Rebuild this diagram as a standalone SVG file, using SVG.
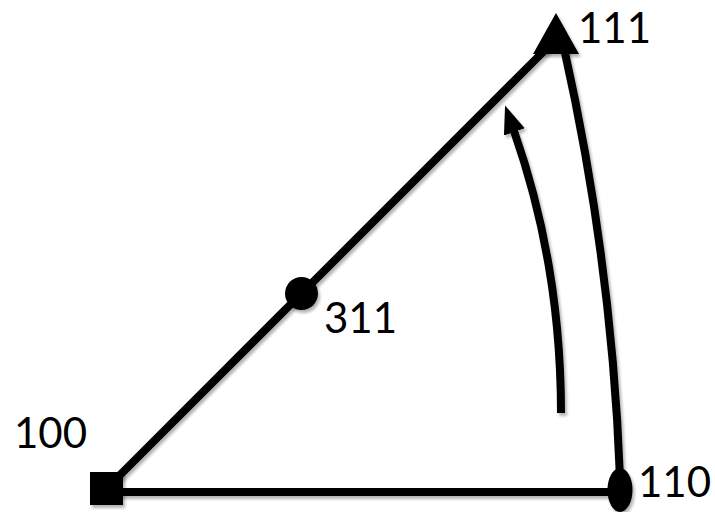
<svg xmlns="http://www.w3.org/2000/svg" width="715" height="512" viewBox="0 0 715 512">
  <style>
    .edge { fill: none; stroke: #000; stroke-width: 8; }
    .shape { fill: #000; stroke: none; }
    .label { font-family: Lato, "Open Sans", "Liberation Sans", sans-serif; font-size: 42px; fill: #000; }
  </style>
  <defs>
    <filter id="shadow" x="-20%" y="-20%" width="140%" height="140%">
      <feGaussianBlur in="SourceAlpha" stdDeviation="1.6"/>
      <feOffset dx="2" dy="2.5" result="b"/>
      <feComponentTransfer><feFuncA type="linear" slope="0.3"/></feComponentTransfer>
      <feMerge><feMergeNode/><feMergeNode in="SourceGraphic"/></feMerge>
    </filter>
    <marker id="head" viewBox="0 -12 30 24" refX="1" refY="0" markerWidth="30" markerHeight="24" markerUnits="userSpaceOnUse" orient="auto">
      <path d="M0,-11 L28,0 L0,11 z" fill="#000"/>
    </marker>
  </defs>
  <rect width="715" height="512" fill="#fff"/>
  <g id="connectors" filter="url(#shadow)">
    <line class="edge" x1="106" y1="489" x2="548" y2="47"/>
    <line class="edge" x1="106" y1="492" x2="620" y2="492"/>
    <path class="edge" d="M620,478 Q612,262 564,48"/>
    <path class="edge" d="M561,413 Q561,265 514,131" stroke-width="7.5" marker-end="url(#head)"/>
  </g>
  <g id="node-100">
    <rect class="shape" x="90" y="472" width="33" height="33" filter="url(#shadow)"/>
    <text class="label" x="14" y="448">100</text>
  </g>
  <g id="node-311">
    <circle class="shape" cx="301.5" cy="293.5" r="16.5" filter="url(#shadow)"/>
    <text class="label" x="324" y="333">311</text>
  </g>
  <g id="node-111">
    <polygon class="shape" points="556,13 533,54 579,54" filter="url(#shadow)"/>
    <text class="label" x="578" y="43">111</text>
  </g>
  <g id="node-110">
    <ellipse class="shape" cx="620" cy="490" rx="12.5" ry="22" filter="url(#shadow)"/>
    <text class="label" x="638" y="497">110</text>
  </g>
</svg>
